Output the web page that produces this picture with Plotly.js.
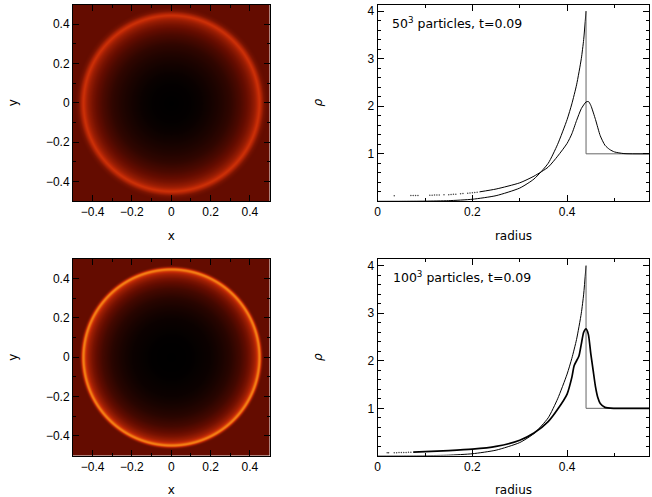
<!DOCTYPE html>
<html><head><meta charset="utf-8">
<script src="https://cdn.plot.ly/plotly-3.0.1.min.js"></script>
<style>html,body{margin:0;padding:0;background:#fff;overflow:hidden}</style></head>
<body><div id="chart" style="width:652px;height:497px"></div>
<script>
const mapRadius50  = [0,.1,.15,.2,.25,.3,.35,.38,.4,.42,.43,.44,.446,.452,.46,.47,.48,.49,.75];
const mapLevel50   = [0,.01,.025,.05,.08,.12,.19,.25,.3,.37,.42,.49,.53,.49,.41,.31,.27,.25,.25];
const mapRadius100 = [0,.1,.2,.25,.3,.35,.38,.4,.42,.43,.437,.442,.447,.451,.455,.46,.465,.47,.75];
const mapLevel100  = [0,.005,.03,.06,.1,.17,.24,.3,.39,.46,.56,.72,.8,.72,.52,.35,.27,.25,.25];
const mapCells = 197;
const mapAxis = [];
for (let i = 0; i < mapCells; i++) mapAxis.push(+(-0.5 + (i + .5) / mapCells).toFixed(5));
const exactR   = [0,.05,.1,.15,.2,.25,.3,.33,.36,.38,.4,.41,.42,.43,.435,.44];
const exactRho = [.001,.002,.005,.015,.045,.12,.28,.47,.8,1.2,1.72,2.05,2.45,3.0,3.4,4.0];
const shockR   = [.44,.44,.575];
const shockRho = [4.0,1,1];
const sparse50R   = [.035,.07,.075,.08,.085,.11,.115,.12,.125,.13,.14,.15,.155,.16,.165,.175,.18,.19,.195,.2,.205,.21];
const sparse50Rho = [.12,.125,.125,.125,.125,.13,.13,.135,.135,.135,.14,.14,.145,.15,.15,.16,.165,.17,.175,.18,.185,.19];
const line50R   = [.215,.25,.3,.33,.36,.38,.4,.41,.42,.43,.44,.445,.45,.46,.47,.48,.49,.5,.52,.575];
const line50Rho = [.2,.26,.39,.53,.72,.95,1.22,1.42,1.7,1.95,2.09,2.1,2.02,1.72,1.38,1.18,1.09,1.04,1.005,1];
const sparse100R   = [.02,.023,.035,.04,.045,.05,.055,.06,.065,.07];
const sparse100Rho = [.065,.065,.065,.065,.07,.07,.07,.07,.075,.075];
const line100R   = [.075,.1,.15,.2,.25,.3,.33,.36,.38,.4,.41,.415,.425,.43,.435,.44,.445,.45,.455,.46,.465,.47,.48,.5,.575];
const line100Rho = [.08,.09,.11,.14,.2,.33,.48,.72,.98,1.3,1.65,1.9,2.1,2.35,2.6,2.67,2.55,2.15,1.8,1.45,1.22,1.1,1.02,1,1];
const heatColours = [[0,'#000000'],[.25,'#640c00'],[.5,'#c42a06'],[.75,'#f07410'],[1,'#ffc040']];
function sample(rs, vs, r) {
  for (let i = 1; i < rs.length; i++) {
    if (r <= rs[i]) return vs[i-1] + (vs[i]-vs[i-1]) * (r-rs[i-1]) / (rs[i]-rs[i-1]);
  }
  return vs[vs.length-1];
}
// average four radial look-ups per cell so the thin ring stays smooth
function cell(rs, vs, x, y) {
  const d = .25 / mapCells;
  return (sample(rs,vs,Math.hypot(x-d,y-d)) + sample(rs,vs,Math.hypot(x+d,y-d)) +
          sample(rs,vs,Math.hypot(x-d,y+d)) + sample(rs,vs,Math.hypot(x+d,y+d))) / 4;
}
function field(rs, vs) { return mapAxis.map(y => mapAxis.map(x => cell(rs, vs, x, y))); }
function heat(rs, vs, xa, ya) {
  return {type:'heatmap', x:mapAxis, y:mapAxis, z:field(rs,vs), xaxis:xa, yaxis:ya,
    colorscale:heatColours, zmin:0, zmax:1, showscale:false, zsmooth:false, hoverinfo:'skip'};
}
function line(x, y, xa, ya, w, c, shape) {
  return {type:'scatter', mode:'lines', x, y, xaxis:xa, yaxis:ya, line:{color:c||'#000', width:w, shape:shape||'spline', smoothing:.6}, hoverinfo:'skip'};
}
function dots(x, y, xa, ya) {
  return {type:'scatter', mode:'markers', x, y, xaxis:xa, yaxis:ya, marker:{color:'#444', size:1.5}, hoverinfo:'skip'};
}
const W = 652, H = 497;
const fx = (a,b) => [a/W, b/W];
const fy = (a,b) => [1-b/H, 1-a/H];
const tickFont = {family:'Liberation Sans', size:12, color:'#000'};
const titleFont = {family:'DejaVu Sans', size:12, color:'#000'};
const noteFont = {family:'DejaVu Sans', size:12.5, color:'#000'};
function axis(dom, range, dtick, minor, title, anchor, standoff) {
  return {domain:dom, range, anchor, dtick, tick0:0, ticks:'inside', ticklen:6, tickwidth:1, tickcolor:'#000',
    showline:true, linecolor:'#000', linewidth:1, mirror:'allticks', showgrid:false, zeroline:false,
    minor:{dtick:minor, ticks:'inside', ticklen:3, tickwidth:1, tickcolor:'#000', showgrid:false},
    tickfont:tickFont, title:{text:title, font:titleFont, standoff}};
}
const mapRange = [-0.5,0.5], rRange = [0,0.5736];
const rhoTop = [0.008,4.14], rhoBottom = [0.008,4.14];
const traces = [
  heat(mapRadius50, mapLevel50, 'x', 'y'),
  heat(mapRadius100, mapLevel100, 'x3', 'y3'),
  line(exactR, exactRho, 'x2', 'y2', 1),
  line(shockR, shockRho, 'x2', 'y2', 1, '#666', 'linear'),
  line(line50R, line50Rho, 'x2', 'y2', 1),
  dots(sparse50R, sparse50Rho, 'x2', 'y2'),
  line(exactR, exactRho, 'x4', 'y4', 1),
  line(shockR, shockRho, 'x4', 'y4', 1, '#666', 'linear'),
  line(line100R, line100Rho, 'x4', 'y4', 1.7),
  dots(sparse100R, sparse100Rho, 'x4', 'y4')
];
const layout = {
  width:W, height:H, margin:{l:0,r:0,t:0,b:0}, showlegend:false, paper_bgcolor:'#fff', plot_bgcolor:'#fff',
  xaxis:  axis(fx(73,269.5), mapRange, .2, .1, 'x', 'y', 13),
  yaxis:  axis(fy(4.5,201), mapRange, .2, .1, 'y', 'x', 25),
  xaxis2: axis(fx(377.7,649.3), rRange, .2, .1, 'radius', 'y2', 13),
  yaxis2: axis(fy(4.5,201), rhoTop, 1, .2, '<i>ρ</i>', 'x2', 42),
  xaxis3: axis(fx(73,269.5), mapRange, .2, .1, 'x', 'y3', 14),
  yaxis3: axis(fy(259,455.5), mapRange, .2, .1, 'y', 'x3', 25),
  xaxis4: axis(fx(377.7,649.3), rRange, .2, .1, 'radius', 'y4', 14),
  yaxis4: axis(fy(259,455.5), rhoBottom, 1, .2, '<i>ρ</i>', 'x4', 42),
  annotations:[
    {text:'50<sup>3</sup> particles, t=0.09', xref:'x2', yref:'y2', x:.026, y:3.76, xanchor:'left', showarrow:false, font:noteFont},
    {text:'100<sup>3</sup> particles, t=0.09', xref:'x4', yref:'y4', x:.028, y:3.76, xanchor:'left', showarrow:false, font:noteFont}
  ]
};
Plotly.newPlot('chart', traces, layout, {displayModeBar:false, staticPlot:true});
</script></body></html>
